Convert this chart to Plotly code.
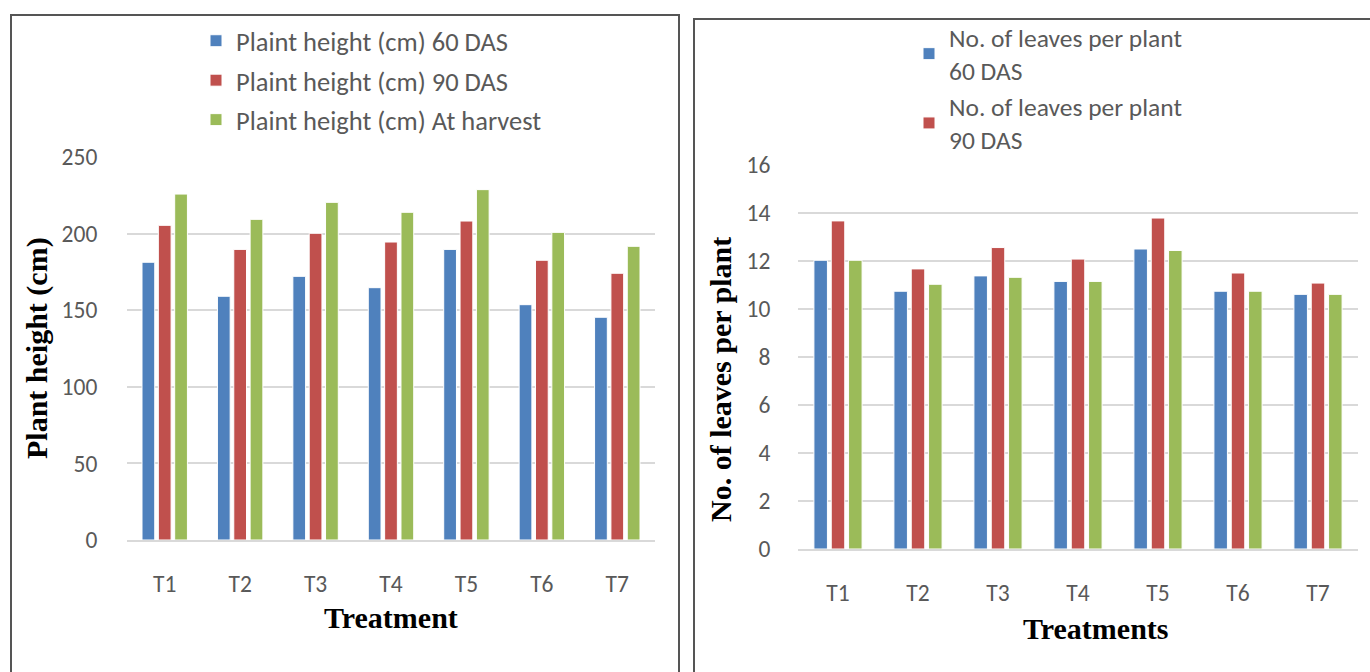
import plotly.graph_objects as go

treatments = ["T1", "T2", "T3", "T4", "T5", "T6", "T7"]

height_60 = [181.3, 159.1, 172.1, 164.7, 189.7, 153.6, 145.4]
height_90 = [205.4, 189.7, 200.2, 194.5, 208.2, 182.6, 174.1]
height_harvest = [225.8, 209.3, 220.4, 213.9, 228.7, 200.8, 191.7]

leaves_60 = [12.03, 10.74, 11.38, 11.15, 12.50, 10.74, 10.61]
leaves_90 = [13.67, 11.67, 12.56, 12.08, 13.79, 11.50, 11.08]
leaves_harvest = [12.03, 11.03, 11.32, 11.15, 12.44, 10.74, 10.61]

left_names = ["Plaint height (cm) 60 DAS", "Plaint height (cm) 90 DAS", "Plaint height (cm) At harvest"]
right_names = ["No. of leaves per plant<br>60 DAS", "No. of leaves per plant<br>90 DAS", "No. of leaves per plant<br>At harvest"]

colors = ["#4F81BD", "#C0504D", "#9BBB59"]
W, H = 1370, 672
FAMILY = "Carlito, Calibri, Lato, sans-serif"
TICKFONT = dict(family=FAMILY, size=23.5, color="#595959")
LEGFONT = dict(family=FAMILY, size=26.5, color="#595959")
LEGFONT2 = dict(family=FAMILY, size=25.5, color="#595959")
TITLEFONT = dict(family="Liberation Serif, Times New Roman, serif", size=30, color="#000000")

fig = go.Figure()

for i, (vals, name) in enumerate(zip([height_60, height_90, height_harvest], left_names)):
    fig.add_trace(go.Bar(x=treatments, y=vals, name=name, marker=dict(color=colors[i], line=dict(color="white", width=1)),
                         xaxis="x", yaxis="y", legend="legend", legendgroup=f"l{i}"))

for i, (vals, name) in enumerate(zip([leaves_60, leaves_90, leaves_harvest], right_names)):
    fig.add_trace(go.Bar(x=treatments, y=vals, name=name, marker=dict(color=colors[i], line=dict(color="white", width=1)),
                         xaxis="x2", yaxis="y2", legend="legend2", legendgroup=f"r{i}", showlegend=(i < 2)))

def px(x):
    return x / W

def py(y):
    return 1 - y / H

grid = dict(showgrid=True, gridcolor="#d9d9d9", gridwidth=2, zeroline=False, showline=False, automargin=False)
xcommon = dict(tickfont=TICKFONT, showgrid=False, showline=True, linecolor="#d9d9d9", linewidth=2,
               ticks="outside", ticklen=22, tickcolor="rgba(0,0,0,0)", automargin=False)

fig.update_layout(
    width=W, height=H, margin=dict(l=0, r=0, t=0, b=0, pad=0, autoexpand=False),
    paper_bgcolor="white", plot_bgcolor="white",
    barmode="group", bargap=0.35, bargroupgap=0.22,
    showlegend=True,
    xaxis=dict(domain=[px(127), px(655)], anchor="y", **xcommon),
    yaxis=dict(domain=[py(540), py(157)], anchor="x", range=[0, 250], dtick=50, tickfont=TICKFONT,
               ticks="outside", ticklen=24, tickcolor="rgba(0,0,0,0)", **grid),
    xaxis2=dict(domain=[px(798), px(1358)], anchor="y2", **xcommon),
    yaxis2=dict(domain=[py(549), py(165)], anchor="x2", range=[0, 16], dtick=2, tickfont=TICKFONT,
                ticks="outside", ticklen=22, tickcolor="rgba(0,0,0,0)", **grid),
    legend=dict(x=px(196), y=py(17), xanchor="left", yanchor="top", bgcolor="rgba(0,0,0,0)",
                font=LEGFONT, traceorder="grouped", tracegroupgap=2, itemclick=False),
    legend2=dict(x=px(909), y=py(14), xanchor="left", yanchor="top", bgcolor="rgba(0,0,0,0)",
                 font=LEGFONT2, traceorder="grouped", tracegroupgap=0, itemclick=False),
    shapes=[
        dict(type="rect", xref="paper", yref="paper", x0=px(11), x1=px(679), y0=py(690), y1=py(15),
             line=dict(color="#555555", width=2), fillcolor="rgba(0,0,0,0)", layer="below"),
        dict(type="rect", xref="paper", yref="paper", x0=px(694), x1=px(1390), y0=py(690), y1=py(19),
             line=dict(color="#555555", width=2), fillcolor="rgba(0,0,0,0)", layer="below"),
    ],
    annotations=[
        dict(text="<b>Treatment</b>", xref="paper", yref="paper", x=px(391), y=py(617), showarrow=False,
             xanchor="center", yanchor="middle", font=TITLEFONT),
        dict(text="<b>Treatments</b>", xref="paper", yref="paper", x=px(1096), y=py(628), showarrow=False,
             xanchor="center", yanchor="middle", font=TITLEFONT),
        dict(text="<b>Plant height (cm)</b>", xref="paper", yref="paper", x=px(37), y=py(348), showarrow=False,
             xanchor="center", yanchor="middle", textangle=-90, font=TITLEFONT),
        dict(text="<b>No. of leaves per plant</b>", xref="paper", yref="paper", x=px(720), y=py(380), showarrow=False,
             xanchor="center", yanchor="middle", textangle=-90, font=TITLEFONT),
    ],
)

fig.write_html(
    "out.html",
    config={"displayModeBar": False},
    post_script=(
        "document.documentElement.style.overflow='hidden';"
        "document.body.style.margin='0';document.body.style.overflow='hidden';"
        "var d=document.getElementById('{plot_id}');"
        "d.style.position='fixed';d.style.top='0px';d.style.left='0px';"
    ),
)
